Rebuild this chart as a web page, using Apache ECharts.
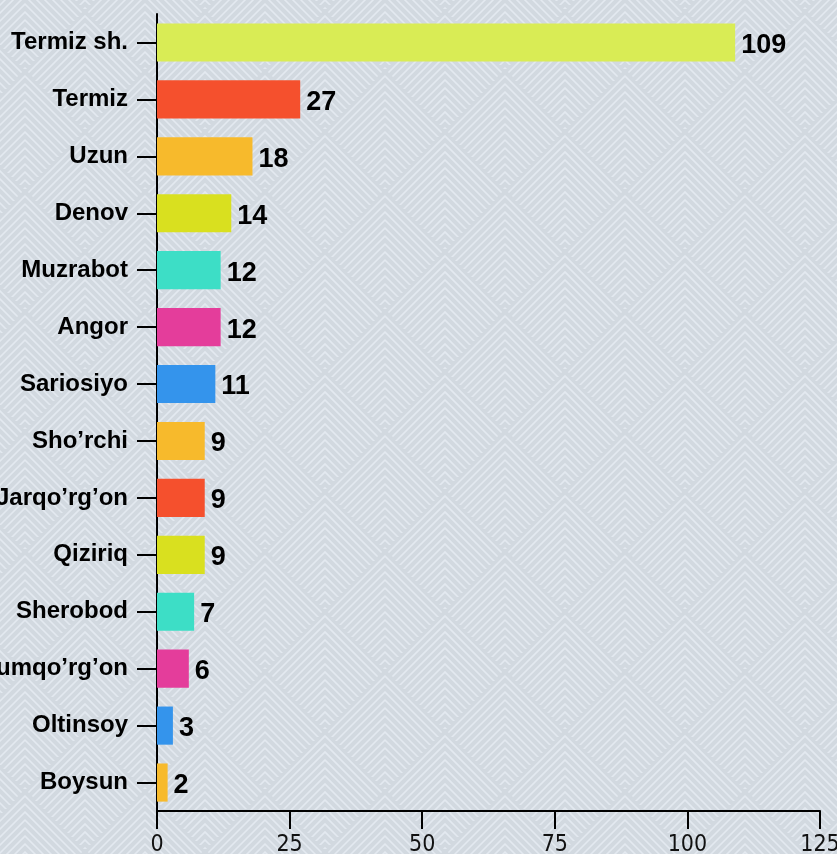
<!DOCTYPE html>
<html>
<head>
<meta charset="utf-8">
<script src="https://cdn.jsdelivr.net/npm/echarts@6/dist/echarts.min.js"></script>
<style>
html,body{margin:0;padding:0;width:837px;height:854px;overflow:hidden;background-color:#e2e8ef;}
#chart{width:837px;height:854px;}
</style>
</head>
<body>
<div id="chart"></div>
<script>
// Data
const categories = ["Termiz sh.", "Termiz", "Uzun", "Denov", "Muzrabot", "Angor", "Sariosiyo", "Sho’rchi", "Jarqo’rg’on", "Qiziriq", "Sherobod", "Qumqo’rg’on", "Oltinsoy", "Boysun"];
const values = [109, 27, 18, 14, 12, 12, 11, 9, 9, 9, 7, 6, 3, 2];
const barColors = ["#d9ec55", "#f5502d", "#f7ba2c", "#d9e01f", "#3ddec6", "#e43d9b", "#3494ec", "#f7ba2c", "#f5502d", "#d9e01f", "#3ddec6", "#e43d9b", "#3494ec", "#f7ba2c"];
const xTicks = [0, 25, 50, 75, 100, 125];

// Background chevron-diamond pattern (decoration)
(function(){
  const T = 120, h = 60, step = 8;
  let paths = '';
  const centers = [[0,0],[120,0],[60,60],[0,120],[120,120]];
  centers.forEach(([cx,cy])=>{
    const y0 = cy - h;
    for (let d = 0; d < 2*h; d += step) {
      const a = (2*h - d)/2;
      paths += `M${cx-a},${y0+d+a} L${cx},${y0+d} L${cx+a},${y0+d+a} `;
    }
  });
  const svg = `<svg xmlns="http://www.w3.org/2000/svg" width="${T}" height="${T}"><rect width="${T}" height="${T}" fill="#e3e9f0"/><path d="${paths}" fill="none" stroke="#d2d9e0" stroke-width="4"/></svg>`;
  document.body.style.backgroundImage = 'url("data:image/svg+xml;utf8,' + encodeURIComponent(svg) + '")';
  document.body.style.backgroundPosition = '85px 72px';
})();

const chart = echarts.init(document.getElementById('chart'), null, {renderer: 'canvas'});
chart.setOption({
  backgroundColor: 'transparent',
  animation: false,
  grid: {left: 157, right: 17, top: 14, bottom: 43, containLabel: false, outerBoundsMode: 'none'},
  xAxis: {
    type: 'value',
    min: xTicks[0],
    max: xTicks[xTicks.length-1],
    interval: 25,
    axisLine: {show: true, lineStyle: {color: '#000', width: 2}},
    axisTick: {show: true, length: 18, lineStyle: {color: '#000', width: 2}},
    splitLine: {show: false},
    axisLabel: {color: '#111', fontFamily: '"Liberation Sans Narrow", "DejaVu Sans Condensed", sans-serif', fontSize: 23, margin: 23}
  },
  yAxis: {
    type: 'category',
    data: categories,
    inverse: true,
    axisLine: {show: true, lineStyle: {color: '#000', width: 2}},
    axisTick: {show: true, alignWithLabel: true, length: 20, lineStyle: {color: '#000', width: 2}},
    axisLabel: {color: '#000', fontFamily: '"Liberation Sans", Arial, sans-serif', fontWeight: 'bold', fontSize: 24, margin: 29, padding: [5, 0, 0, 0]}
  },
  series: [{
    type: 'bar',
    data: values.map((v,i)=>({value: v, itemStyle: {color: barColors[i]}})),
    barCategoryGap: '33%',
    label: {show: true, position: 'right', distance: 6, offset: [0, 3], color: '#000', fontFamily: '"Liberation Sans", Arial, sans-serif', fontWeight: 'bold', fontSize: 27}
  }]
});
</script>
</body>
</html>
